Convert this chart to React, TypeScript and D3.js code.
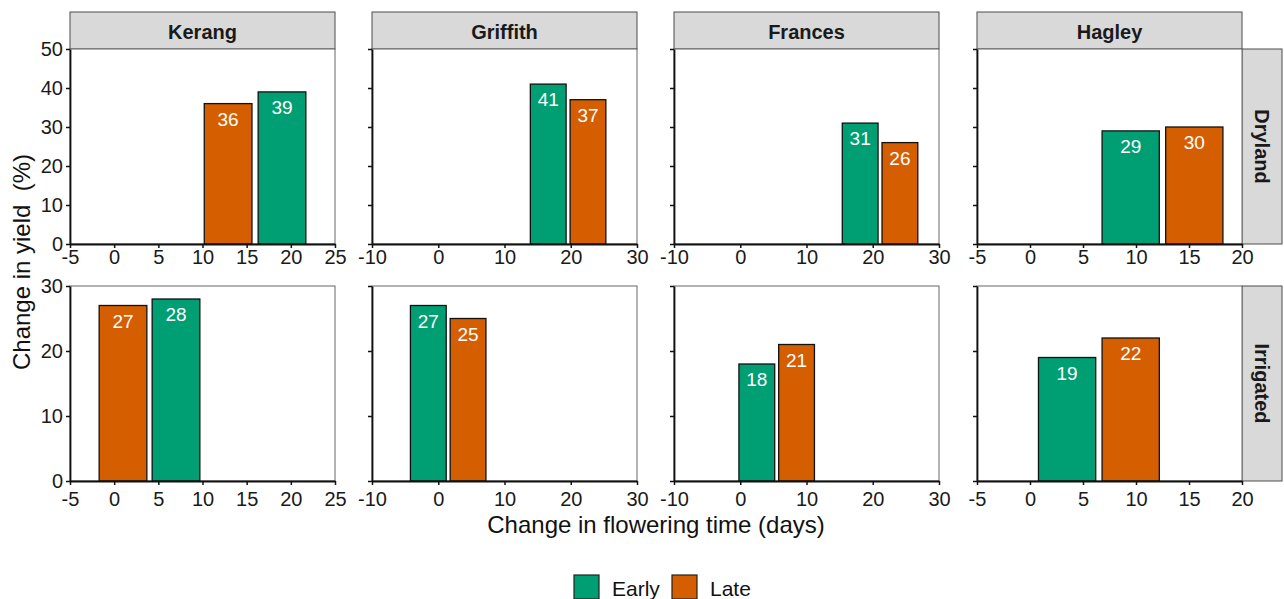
import React, { useRef, useEffect } from 'react';
import * as d3 from 'd3';

// facets
const sites = ['Kerang', 'Griffith', 'Frances', 'Hagley'];
const regimes = ['Dryland', 'Irrigated'];
const groups = ['Early', 'Late'];

// x scale per site (days)
const xDomains = [[-5, 25], [-10, 30], [-10, 30], [-5, 20]];
const xTicks = [
  [-5, 0, 5, 10, 15, 20, 25],
  [-10, 0, 10, 20, 30],
  [-10, 0, 10, 20, 30],
  [-5, 0, 5, 10, 15, 20],
];
// y scale per regime (%)
const yMaxes = [50, 30];
const yTicks = [[0, 10, 20, 30, 40, 50], [0, 10, 20, 30]];

// bar centre (change in flowering time) and change in yield, per site
const dryEarlyDays = [19, 16.6, 18.1, 9.5];
const dryEarlyYield = [39, 41, 31, 29];
const dryLateDays = [12.9, 22.6, 24.1, 15.5];
const dryLateYield = [36, 37, 26, 30];
const irrEarlyDays = [7, -1.5, 2.5, 3.5];
const irrEarlyYield = [28, 27, 18, 19];
const irrLateDays = [1, 4.5, 8.5, 9.5];
const irrLateYield = [27, 25, 21, 22];

const barWidth = 5.4; // days

const colors = { Early: '#009E73', Late: '#D55E00' };

const App = () => {
  const ref = useRef(null);

  useEffect(() => {
    const svg = d3.select(ref.current);
    svg.selectAll('*').remove();

    const font = 'Arial, "Liberation Sans", Helvetica, sans-serif';
    const panelW = 265;
    const lefts = [70, 372, 674, 977];
    const rows = [
      { top: 49, bottom: 244, pad: 2 },
      { top: 286, bottom: 481, pad: 7 },
    ];

    const barData = [
      [
        { g: 'Early', days: dryEarlyDays, vals: dryEarlyYield },
        { g: 'Late', days: dryLateDays, vals: dryLateYield },
      ],
      [
        { g: 'Early', days: irrEarlyDays, vals: irrEarlyYield },
        { g: 'Late', days: irrLateDays, vals: irrLateYield },
      ],
    ];

    // strips on top
    sites.forEach((s, c) => {
      svg.append('rect').attr('x', lefts[c]).attr('y', 12).attr('width', panelW).attr('height', 37)
        .attr('fill', '#D9D9D9').attr('stroke', '#4d4d4d').attr('stroke-width', 1);
      svg.append('text').attr('x', lefts[c] + panelW / 2).attr('y', 38.5).attr('text-anchor', 'middle')
        .attr('font-family', font).attr('font-size', 20).attr('font-weight', 'bold').attr('fill', '#1a1a1a').text(s);
    });

    regimes.forEach((reg, r) => {
      const { top, bottom, pad } = rows[r];
      const y = d3.scaleLinear().domain([0, yMaxes[r]]).range([bottom, top]);

      // strip on right
      const sx = lefts[3] + panelW;
      svg.append('rect').attr('x', sx).attr('y', top).attr('width', 40).attr('height', bottom - top)
        .attr('fill', '#D9D9D9').attr('stroke', '#4d4d4d').attr('stroke-width', 1);
      svg.append('text').attr('transform', `translate(${sx + 20},${(top + bottom) / 2}) rotate(90)`)
        .attr('text-anchor', 'middle').attr('dominant-baseline', 'central')
        .attr('font-family', font).attr('font-size', 20).attr('font-weight', 'bold').attr('fill', '#1a1a1a').text(reg);

      sites.forEach((s, c) => {
        const x = d3.scaleLinear().domain(xDomains[c]).range([lefts[c], lefts[c] + panelW]);
        const g = svg.append('g');

        g.append('rect').attr('x', lefts[c]).attr('y', top).attr('width', panelW).attr('height', bottom - top)
          .attr('fill', 'white').attr('stroke', '#666').attr('stroke-width', 1);

        const bars = barData[r].map(b => ({ g: b.g, day: b.days[c], val: b.vals[c] }));

        g.selectAll('rect.bar').data(bars).join('rect').attr('class', 'bar')
          .attr('x', d => x(d.day - barWidth / 2)).attr('width', d => x(d.day + barWidth / 2) - x(d.day - barWidth / 2))
          .attr('y', d => y(d.val)).attr('height', d => y(0) - y(d.val))
          .attr('fill', d => colors[d.g]).attr('stroke', '#111').attr('stroke-width', 1.3);

        g.selectAll('text.lbl').data(bars).join('text').attr('class', 'lbl')
          .attr('x', d => x(d.day)).attr('y', d => y(d.val) + 22).attr('text-anchor', 'middle')
          .attr('font-family', font).attr('font-size', 19).attr('fill', 'white').text(d => d.val);

        // axes
        const ax = g.append('g').attr('transform', `translate(0,${bottom})`)
          .call(d3.axisBottom(x).tickValues(xTicks[c]).tickSize(4).tickSizeOuter(0).tickPadding(pad).tickFormat(d => String(d)));
        const ay = g.append('g').attr('transform', `translate(${lefts[c]},0)`)
          .call(d3.axisLeft(y).tickValues(yTicks[r]).tickSize(4).tickSizeOuter(0).tickPadding(3)
            .tickFormat(d => (c === 0 ? String(d) : '')));
        [ax, ay].forEach(a => {
          a.attr('font-family', font).attr('font-size', 20);
          a.select('.domain').attr('stroke', '#111').attr('stroke-width', 1.8);
          a.selectAll('.tick line').attr('stroke', '#111').attr('stroke-width', 1.5);
          a.selectAll('.tick text').attr('fill', '#1a1a1a');
        });
      });
    });

    // axis titles
    svg.append('text').attr('x', (lefts[0] + lefts[3] + panelW) / 2).attr('y', 533).attr('text-anchor', 'middle')
      .attr('font-family', font).attr('font-size', 24).attr('fill', '#111').text('Change in flowering time (days)');
    svg.append('text').attr('transform', 'translate(30,262) rotate(-90)').attr('text-anchor', 'middle')
      .attr('font-family', font).attr('font-size', 24).attr('fill', '#111').attr('xml:space', 'preserve')
      .style('white-space', 'pre').text('Change in yield  (%)');

    // legend
    const lx = [574, 672];
    groups.forEach((gr, i) => {
      svg.append('rect').attr('x', lx[i]).attr('y', 575).attr('width', 25).attr('height', 24)
        .attr('fill', colors[gr]).attr('stroke', '#222').attr('stroke-width', 1.2);
      svg.append('text').attr('x', lx[i] + 38).attr('y', 596).attr('font-family', font).attr('font-size', 21)
        .attr('fill', '#111').text(gr);
    });
  }, []);

  return (
    <svg ref={ref} width={1284} height={599}
      style={{ position: 'absolute', left: 0, top: 0, background: 'white', display: 'block' }} />
  );
};

export default App;
